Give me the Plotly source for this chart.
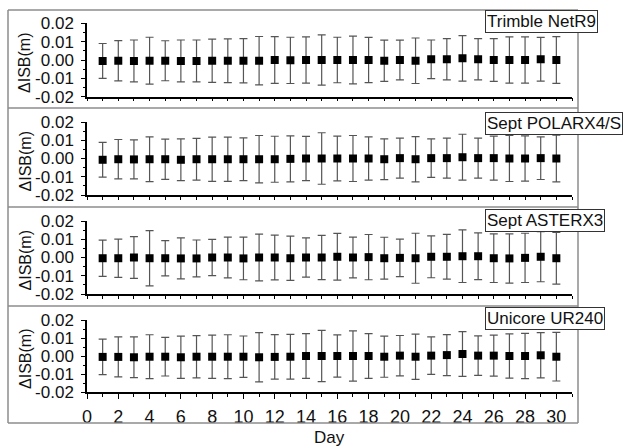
import plotly.graph_objects as go

# ---- data -------------------------------------------------------------
days = list(range(1, 31))

receivers = ["Trimble NetR9", "Sept POLARX4/S", "Sept ASTERX3", "Unicore UR240"]

trimble_isb = [-0.0005, -0.0004, -0.0005, -0.0004, -0.0004, -0.0005, -0.0005, -0.0004, -0.0004, -0.0004,
               -0.0004, 0.0000, -0.0002, 0.0000, 0.0000, 0.0000, 0.0000, 0.0000, -0.0004, 0.0000,
               -0.0004, 0.0004, 0.0004, 0.0009, 0.0004, 0.0000, 0.0000, 0.0000, 0.0004, 0.0000]
trimble_std = [0.0095, 0.0110, 0.0114, 0.0128, 0.0109, 0.0114, 0.0114, 0.0118, 0.0119, 0.0121,
               0.0132, 0.0127, 0.0126, 0.0126, 0.0137, 0.0124, 0.0130, 0.0123, 0.0112, 0.0108,
               0.0124, 0.0105, 0.0112, 0.0124, 0.0112, 0.0116, 0.0126, 0.0126, 0.0119, 0.0127]

polarx_isb = [-0.0007, -0.0004, -0.0005, -0.0004, -0.0004, -0.0007, -0.0004, -0.0004, -0.0004, -0.0004,
              -0.0004, -0.0004, -0.0002, 0.0000, 0.0000, 0.0000, 0.0000, 0.0000, -0.0004, 0.0002,
              -0.0004, 0.0002, 0.0002, 0.0007, 0.0002, 0.0002, 0.0000, 0.0000, 0.0002, 0.0000]
polarx_std = [0.0095, 0.0108, 0.0107, 0.0123, 0.0110, 0.0114, 0.0114, 0.0121, 0.0121, 0.0117,
              0.0130, 0.0126, 0.0126, 0.0121, 0.0141, 0.0123, 0.0126, 0.0119, 0.0112, 0.0110,
              0.0124, 0.0105, 0.0110, 0.0126, 0.0110, 0.0121, 0.0126, 0.0124, 0.0117, 0.0128]

asterx_isb = [-0.0004, -0.0004, 0.0000, -0.0004, -0.0004, -0.0005, -0.0005, 0.0000, 0.0000, -0.0005,
              0.0000, 0.0000, -0.0004, 0.0000, 0.0000, 0.0004, 0.0000, 0.0002, -0.0004, -0.0002,
              -0.0004, 0.0004, 0.0004, 0.0007, 0.0007, -0.0004, -0.0005, -0.0002, 0.0004, -0.0004]
asterx_std = [0.0099, 0.0105, 0.0114, 0.0151, 0.0097, 0.0112, 0.0101, 0.0099, 0.0112, 0.0117,
              0.0128, 0.0123, 0.0121, 0.0108, 0.0121, 0.0128, 0.0112, 0.0124, 0.0115, 0.0103,
              0.0137, 0.0115, 0.0123, 0.0144, 0.0128, 0.0133, 0.0135, 0.0135, 0.0137, 0.0142]

unicore_isb = [-0.0005, -0.0005, -0.0007, -0.0004, -0.0004, -0.0007, -0.0004, -0.0004, -0.0004, -0.0004,
               -0.0007, -0.0005, -0.0004, 0.0000, 0.0000, 0.0000, 0.0000, 0.0000, -0.0004, 0.0002,
               -0.0004, 0.0002, 0.0005, 0.0011, 0.0002, 0.0002, 0.0000, 0.0000, 0.0004, -0.0004]
unicore_std = [0.0099, 0.0111, 0.0113, 0.0122, 0.0107, 0.0117, 0.0117, 0.0120, 0.0122, 0.0115,
               0.0137, 0.0124, 0.0124, 0.0124, 0.0142, 0.0117, 0.0140, 0.0124, 0.0114, 0.0112,
               0.0126, 0.0104, 0.0114, 0.0124, 0.0110, 0.0114, 0.0123, 0.0126, 0.0126, 0.0135]

y_tickvals = [-0.02, -0.01, 0.0, 0.01, 0.02]
y_ticktext = ["-0.02", "-0.01", "0.00", "0.01", "0.02"]
x_tickvals = list(range(0, 31, 2))
x_ticktext = [str(v) for v in x_tickvals]

series_isb = [trimble_isb, polarx_isb, asterx_isb, unicore_isb]
series_std = [trimble_std, polarx_std, asterx_std, unicore_std]

# ---- page geometry (pixels) --------------------------------------------
W, H = 625, 446
PLOT_LEFT, PLOT_RIGHT = 87, 572
PLOT_SPANS = [(23.3, 96.7), (122, 195), (221, 294), (320, 392)]   # top, bottom of each plot area
FRAME_LEFT, FRAME_RIGHT = 8, 578
FRAME_ROWS = [10, 108, 207, 306, 423]
LABEL_TOPS = [10, 112, 209, 307]

FONT = "Arial, 'Liberation Sans', sans-serif"


def fx(x):
    return x / W


def fy(y):
    return 1 - y / H


fig = go.Figure()

for i in range(4):
    sfx = "" if i == 0 else str(i + 1)
    fig.add_trace(go.Scatter(
        x=days, y=series_isb[i], mode="markers",
        marker=dict(symbol="square", size=8, color="black", line=dict(width=0)),
        error_y=dict(type="data", array=series_std[i], visible=True,
                     color="#555555", thickness=1.2, width=4),
        xaxis="x" + sfx, yaxis="y" + sfx, showlegend=False,
    ))

    top, bot = PLOT_SPANS[i]
    last = (i == 3)
    fig.layout["xaxis" + sfx] = dict(
        domain=[fx(PLOT_LEFT), fx(PLOT_RIGHT)], anchor="y" + sfx,
        range=[0, 31], showgrid=False, zeroline=False, automargin=False,
        showline=True, linecolor="black", linewidth=1.5,
        tickmode="array", tickvals=x_tickvals,
        ticktext=x_ticktext if last else [""] * len(x_tickvals),
        showticklabels=last,
        ticks="outside", ticklen=5, tickwidth=1.3, tickcolor="black",
        minor=dict(dtick=1, tick0=0, ticks="outside", ticklen=3,
                   tickwidth=1.2, tickcolor="black"),
        tickfont=dict(family=FONT, size=18, color="#111111"),
        ticklabelstandoff=3,
    )
    fig.layout["yaxis" + sfx] = dict(
        domain=[fy(bot), fy(top)], anchor="x" + sfx,
        range=[-0.02, 0.02], showgrid=False, zeroline=False, automargin=False,
        showline=True, linecolor="black", linewidth=1.5,
        tickmode="array", tickvals=y_tickvals, ticktext=y_ticktext,
        ticks="outside", ticklen=4, tickwidth=1.3, tickcolor="black",
        minor=dict(dtick=0.005, tick0=0, ticks="outside", ticklen=2,
                   tickwidth=1.2, tickcolor="black"),
        tickfont=dict(family=FONT, size=17, color="#111111"),
        ticklabelstandoff=4,
    )

# outer frame and row separators
shapes = []
for yrow in FRAME_ROWS:
    shapes.append(dict(type="line", xref="paper", yref="paper",
                       x0=fx(FRAME_LEFT), x1=fx(FRAME_RIGHT), y0=fy(yrow), y1=fy(yrow),
                       line=dict(color="#8c8c8c", width=1.5)))
for xcol in (FRAME_LEFT, FRAME_RIGHT):
    shapes.append(dict(type="line", xref="paper", yref="paper",
                       x0=fx(xcol), x1=fx(xcol), y0=fy(FRAME_ROWS[0]), y1=fy(FRAME_ROWS[-1]),
                       line=dict(color="#8c8c8c", width=1.5)))

annotations = []
for i, name in enumerate(receivers):
    top, bot = PLOT_SPANS[i]
    # receiver name box
    annotations.append(dict(
        text=name, xref="paper", yref="paper", x=fx(485), y=fy(LABEL_TOPS[i]),
        xanchor="left", yanchor="top", showarrow=False,
        font=dict(family=FONT, size=17, color="#111111"),
        bgcolor="white", bordercolor="#333333", borderwidth=1, borderpad=1,
    ))
    # y-axis title
    annotations.append(dict(
        text="ΔISB(m)", xref="paper", yref="paper", x=fx(25), y=fy((top + bot) / 2 + 3),
        xanchor="center", yanchor="middle", showarrow=False, textangle=-90,
        font=dict(family=FONT, size=16, color="#111111"),
    ))

annotations.append(dict(
    text="Day", xref="paper", yref="paper", x=fx((PLOT_LEFT + PLOT_RIGHT) / 2), y=fy(437),
    xanchor="center", yanchor="middle", showarrow=False,
    font=dict(family=FONT, size=17, color="#111111"),
))

fig.update_layout(
    width=W, height=H,
    margin=dict(l=0, r=0, t=0, b=0, pad=0, autoexpand=False),
    paper_bgcolor="white", plot_bgcolor="rgba(0,0,0,0)",
    shapes=shapes, annotations=annotations,
)

fig.write_html("out.html")
